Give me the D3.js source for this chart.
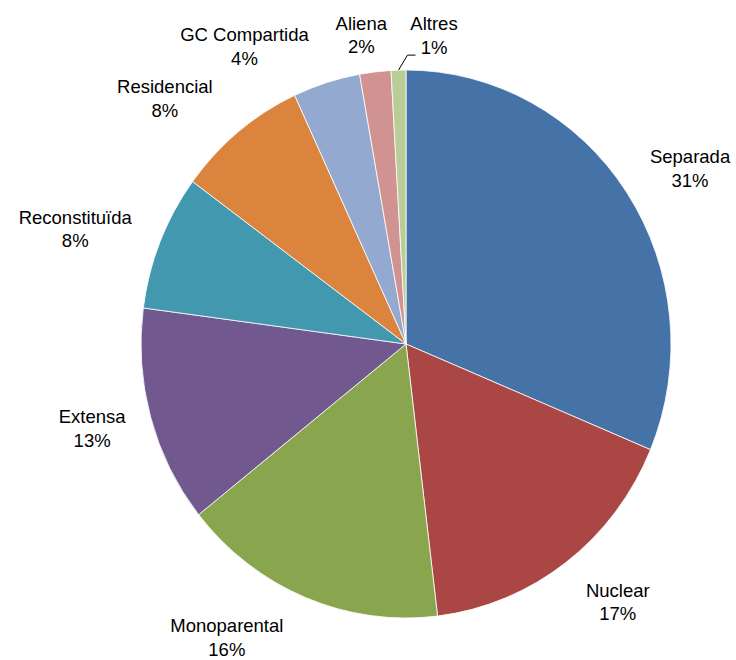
<!DOCTYPE html>
<html><head><meta charset="utf-8">
<script src="https://cdn.jsdelivr.net/npm/d3@7"></script>
<style>body{margin:0;background:#fff}svg{display:block}text{font-family:"Liberation Sans",Arial,sans-serif;font-size:18.5px;fill:#000}</style>
</head><body><div id="chart"></div>
<script>
const categories = ["Separada","Nuclear","Monoparental","Extensa","Reconstituïda","Residencial","GC Compartida","Aliena","Altres"];
const values = [31.3, 16.8, 16.2, 12.8, 8.0, 8.0, 4.1, 1.9, 0.9];
const colors = ["#4572A7","#AA4643","#89A54E","#71588F","#4198AF","#DB843D","#93A9CF","#D19392","#B9CD96"];
// label nudges (first-line baseline) relative to slice edge mid-point
const labelNudge = [[63.5,-29],[52,34],[-78.5,35],[-58.5,6],[-85,-18],[-73.5,-38.5],[-82,-41.5],[-14,-42],[35.5,-40]];

const W = 736, H = 660, cx = 406, cy = 344, rx = 265, ry = 274;
const svg = d3.select("#chart").append("svg").attr("width", W).attr("height", H);
const data = categories.map((c,i)=>({name:c, value:values[i], color:colors[i], nudge:labelNudge[i]}));
const pie = d3.pie().value(d=>d.value).sort(null);
const arcs = pie(data);
const arc = d3.arc().innerRadius(0).outerRadius(rx);
const g = svg.append("g").attr("transform", `translate(${cx},${cy}) scale(1,${ry/rx})`);
g.selectAll("path").data(arcs).enter().append("path")
  .attr("d", arc).attr("fill", d=>d.data.color)
  .attr("stroke", "#fff").attr("stroke-width", 0.8).attr("vector-effect","non-scaling-stroke");

const edge = (a, k=1) => [cx + rx*k*Math.sin(a), cy - ry*k*Math.cos(a)];
const total = d3.sum(values);
const lab = svg.append("g");
arcs.forEach((d,i) => {
  const mid = (d.startAngle + d.endAngle)/2;
  const [ex, ey] = edge(mid);
  const x = ex + d.data.nudge[0], y = ey + d.data.nudge[1];
  const t = lab.append("text").attr("text-anchor","middle");
  t.append("tspan").attr("x", x).attr("y", y).text(d.data.name);
  t.append("tspan").attr("x", x).attr("y", y + 23.5).text(Math.round(d.data.value/total*100) + "%");
  if (d.data.name === "Altres") {
    const p0 = edge(mid, 1.0);
    lab.append("path")
      .attr("d", `M${p0[0]},${p0[1]}L${p0[0]+9},${p0[1]-15}L${p0[0]+17},${p0[1]-15}`)
      .attr("fill","none").attr("stroke","#000").attr("stroke-width",1);
  }
});
</script></body></html>
